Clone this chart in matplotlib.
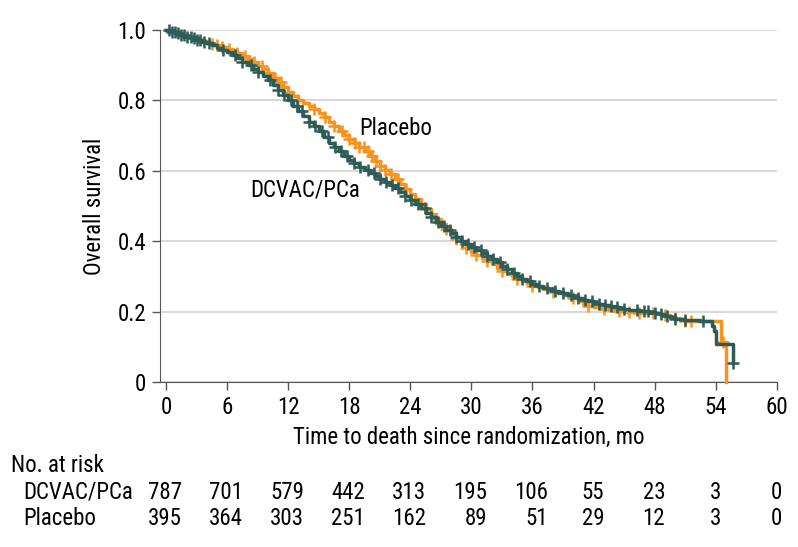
import numpy as np
import matplotlib.pyplot as plt
from matplotlib import font_manager
from matplotlib.transforms import blended_transform_factory

# condensed face if one is installed, else Roboto (narrower than DejaVu)
installed = {f.name for f in font_manager.fontManager.ttflist}
family = next(f for f in ['Roboto Condensed', 'Liberation Sans Narrow', 'Open Sans Condensed',
                          'Roboto', 'DejaVu Sans'] if f in installed)
FS = 16.5 if family != 'Roboto' else 14
plt.rcParams['font.family'] = [family, 'DejaVu Sans']

# survival read every half month from 0 mo, then the irregular tail steps
dcvac_surv = [
    1.0, 0.995, 0.99, 0.985, 0.98, 0.976, 0.972, 0.967, 0.962, 0.956,
    0.95, 0.944, 0.937, 0.929, 0.92, 0.91, 0.90, 0.89, 0.88, 0.869,
    0.857, 0.844, 0.83, 0.815, 0.80, 0.785, 0.77, 0.755, 0.74, 0.726,
    0.712, 0.696, 0.68, 0.667, 0.655, 0.643, 0.632, 0.622, 0.612, 0.603,
    0.595, 0.586, 0.578, 0.569, 0.56, 0.55, 0.54, 0.529, 0.517, 0.506,
    0.495, 0.481, 0.468, 0.455, 0.443, 0.433, 0.423, 0.412, 0.402, 0.392,
    0.383, 0.375, 0.367, 0.358, 0.35, 0.34, 0.33, 0.32, 0.31, 0.302,
    0.294, 0.286, 0.278, 0.273, 0.268, 0.263, 0.259, 0.255, 0.252, 0.247,
    0.243, 0.238, 0.233, 0.229, 0.225, 0.222, 0.22, 0.216, 0.212, 0.209,
    0.207, 0.205, 0.204, 0.202, 0.201, 0.198, 0.196, 0.192, 0.188, 0.184,
    0.18, 0.178, 0.176, 0.175, 0.175, 0.174, 0.174, 0.174,
]
dcvac_tail_t = [53.6, 53.8, 54.0, 55.75]
dcvac_tail_s = [0.16, 0.145, 0.107, 0.054]

placebo_surv = [
    1.0, 0.996, 0.99, 0.987, 0.983, 0.979, 0.975, 0.97, 0.966, 0.961,
    0.956, 0.951, 0.946, 0.941, 0.935, 0.927, 0.918, 0.908, 0.898, 0.888,
    0.878, 0.865, 0.852, 0.838, 0.825, 0.812, 0.80, 0.793, 0.785, 0.775,
    0.765, 0.752, 0.74, 0.726, 0.712, 0.701, 0.69, 0.679, 0.667, 0.655,
    0.642, 0.628, 0.615, 0.603, 0.59, 0.576, 0.562, 0.548, 0.535, 0.52,
    0.505, 0.491, 0.478, 0.464, 0.45, 0.435, 0.42, 0.405, 0.392, 0.381,
    0.37, 0.361, 0.352, 0.343, 0.335, 0.325, 0.315, 0.307, 0.3, 0.293,
    0.287, 0.28, 0.274, 0.269, 0.264, 0.26, 0.256, 0.252, 0.248, 0.243,
    0.238, 0.23, 0.222, 0.217, 0.213, 0.21, 0.207, 0.205, 0.203, 0.201,
    0.2, 0.199, 0.198, 0.197, 0.197, 0.196, 0.195, 0.192, 0.189, 0.185,
    0.182, 0.178, 0.174, 0.173, 0.172, 0.172, 0.172, 0.172, 0.172,
]
placebo_tail_t = [54.5, 55.0]
placebo_tail_s = [0.115, 0.0]

dcvac_censor = [
    0.3, 0.6, 0.9, 1.2, 1.5, 1.8, 2.1, 2.4, 2.7, 3.0, 3.3, 3.7, 4.2,
    5.6, 6.8, 7.5, 8.3, 9.0, 10.2, 11.0, 11.6, 12.3, 12.9, 13.4, 14.0,
    14.6, 15.3, 15.9, 16.6, 17.2, 17.8, 18.5, 19.1, 19.8, 20.4, 21.0,
    21.6, 22.2, 22.8, 23.5, 24.1, 24.8, 25.4, 26.0, 26.7, 27.3, 27.9,
    28.5, 29.1, 29.7, 30.3, 30.9, 31.5, 32.1, 32.8, 33.5, 34.2, 35.0,
    35.8, 36.6, 37.4, 38.2, 39.0, 39.8, 40.5, 41.2, 41.9, 42.5, 43.1,
    43.7, 44.3, 45.0, 46.3, 47.0, 47.4, 48.0, 48.6, 49.2, 50.0, 51.0,
    52.8, 55.75,
]
placebo_censor = [
    4.5, 5.0, 5.5, 6.2, 7.0, 7.8, 8.6, 9.4, 10.0, 10.7, 11.3, 12.0,
    13.0, 14.5, 15.6, 16.5, 17.3, 18.0, 18.6, 19.0, 19.4, 19.8, 20.2,
    20.6, 21.0, 21.5, 22.1, 22.8, 23.6, 24.5, 25.5, 26.5, 27.5, 28.5,
    29.5, 30.5, 31.5, 33.0, 34.5, 36.0, 38.0, 40.0, 41.5, 43.0, 44.5,
    45.5, 46.5, 47.8, 49.0, 50.0, 51.0, 51.6, 54.7,
]

risk_times = [0, 6, 12, 18, 24, 30, 36, 42, 48, 54, 60]
risk_dcvac = [787, 701, 579, 442, 313, 195, 106, 55, 23, 3, 0]
risk_placebo = [395, 364, 303, 251, 162, 89, 51, 29, 12, 3, 0]

TEAL = '#2d5c58'
ORANGE = '#f7931e'


def km_curve(surv, tail_t, tail_s):
    t = np.concatenate([np.arange(len(surv)) * 0.5, tail_t])
    s = np.concatenate([surv, tail_s])
    return t, s


def at(t, s, c):
    idx = np.searchsorted(t, c, side='right') - 1
    return s[idx]


fig = plt.figure(figsize=(7.98, 5.47), dpi=100)
ax = fig.add_axes([0.2005, 0.3016, 0.7728, 0.6436])

for surv, tt, ts, cens, col in [
    (placebo_surv, placebo_tail_t, placebo_tail_s, placebo_censor, ORANGE),
    (dcvac_surv, dcvac_tail_t, dcvac_tail_s, dcvac_censor, TEAL),
]:
    t, s = km_curve(surv, tt, ts)
    ax.step(t, s, where='post', color=col, lw=2.5, clip_on=False, zorder=3)
    c = np.array(cens)
    ax.plot(c, at(t, s, c), ls='none', marker='+', ms=9, mew=1.8,
            color=col, clip_on=False, zorder=3)

ax.set_xlim(-0.6, 60)
ax.set_ylim(0, 1)
ax.set_xticks(risk_times)
ax.set_yticks([0, 0.2, 0.4, 0.6, 0.8, 1.0])
ax.set_yticklabels(['0', '0.2', '0.4', '0.6', '0.8', '1.0'])
ax.tick_params(labelsize=FS, length=6, width=1, color='#555555', pad=4)
for sp in ['top', 'right']:
    ax.spines[sp].set_visible(False)
for sp in ['left', 'bottom']:
    ax.spines[sp].set_color('#555555')
ax.grid(axis='y', color='#d9d9d9', lw=1.5)
ax.set_axisbelow(True)

ax.set_xlabel('Time to death since randomization, mo', fontsize=FS, labelpad=5)
ax.set_ylabel('Overall survival', fontsize=FS, labelpad=8)

ax.text(22.6, 0.72, 'Placebo', fontsize=FS, ha='center', va='center')
ax.text(13.7, 0.545, 'DCVAC/PCa', fontsize=FS, ha='center', va='center')

# number at risk table
tr = blended_transform_factory(ax.transData, fig.transFigure)
fig.text(11 / 798, 1 - 472 / 547, 'No. at risk', fontsize=FS, va='baseline')
for name, counts, ybase in [('DCVAC/PCa', risk_dcvac, 499), ('Placebo', risk_placebo, 525)]:
    fy = 1 - ybase / 547
    fig.text(23 / 798, fy, name, fontsize=FS, va='baseline')
    for i, x in enumerate(risk_times):
        w = max(len(str(risk_dcvac[i])), len(str(risk_placebo[i])))
        ax.text(x + 0.52 * w, fy, str(counts[i]), fontsize=FS, va='baseline',
                ha='right', transform=tr)

fig.savefig('out.png', dpi=100)
